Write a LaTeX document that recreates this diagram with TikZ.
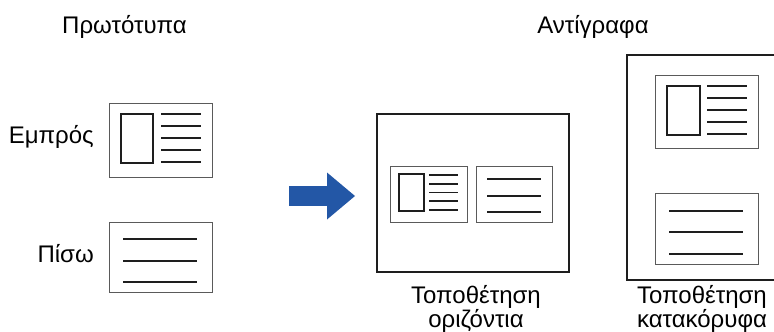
\documentclass[tikz,border=0pt]{standalone}
\usepackage{fontspec}
\setmainfont{Liberation Sans}
\usetikzlibrary{arrows.meta, positioning}
\definecolor{CB}{RGB}{35,87,166}
\definecolor{DG}{RGB}{30,30,30}
\definecolor{MG}{RGB}{90,90,90}

\begin{document}
\begin{tikzpicture}[x=1pt, y=-1pt,
  page/.style={draw=DG, line width=2pt, fill=white, minimum width=#1, inner sep=0pt},
  card/.style={draw=MG, line width=1pt, fill=white, minimum width=#1, inner sep=0pt},
  txtline/.style={draw=DG, line width=1.8pt},
  photo/.style={draw=DG, line width=1.8pt},
  lbl/.style={font=\fontsize{24}{20}\selectfont, text=black, inner sep=0pt}
]
\clip (0,0) rectangle (774,332);

% Titles
\node[lbl, anchor=base] (tOrig) at (124.5,34) {Πρωτότυπα};
\node[lbl, anchor=base] (tCopy) at (593,34)   {Αντίγραφα};

% Originals
\node[card=103pt, minimum height=74pt] (frontO) at (160.5,140) {};
\node[card=103pt, minimum height=70pt] (backO)  at (160.5,257) {};
\node[lbl, anchor=base east] (lFront) at (94,143) {Εμπρός};
\node[lbl, anchor=base east] (lBack)  at (94,262) {Πίσω};
\draw[photo] (121,114) rectangle (153,163);
\foreach \y in {114,126,138,150,162}
  \draw[txtline] (161,\y) -- (201,\y);
\foreach \y in {239,261,282}
  \draw[txtline] (123,\y) -- (197,\y);

% Arrow
\coordinate (arrS) at (289,196);
\coordinate (arrE) at (355,196);
\draw[CB, line width=20pt, -{Triangle[length=28pt, width=47pt, line width=0pt]}] (arrS) -- (arrE);

% Copy, side by side
\node[page=192pt, minimum height=158pt] (pageH) at (473,193) {};
\node[card=77pt, minimum height=56pt] (frontH) at (428.5,194) {};
\node[card=76pt, minimum height=56pt] (backH)  at (514,194) {};
\draw[photo] (399,174) rectangle (424,211);
\foreach \y in {175,183.75,192.5,201.25,210}
  \draw[txtline] (429,\y) -- (458,\y);
\foreach \y in {179,196,212}
  \draw[txtline] (487,\y) -- (541,\y);
\node[lbl, align=center, anchor=north] (lblH) at (476,285.5) {Τοποθέτηση\\οριζόντια};

% Copy, one above the other
\node[page=159pt, minimum height=225pt] (pageV) at (706.5,167.5) {};
\node[card=103pt, minimum height=73pt] (frontV) at (706.5,111.5) {};
\node[card=103pt, minimum height=71pt] (backV)  at (706.5,228.5) {};
\draw[photo] (667,86) rectangle (700,135);
\foreach \y in {86,98,110,122,134}
  \draw[txtline] (707,\y) -- (747,\y);
\foreach \y in {211,232,254}
  \draw[txtline] (669,\y) -- (743,\y);
\node[lbl, align=center, anchor=north] (lblV) at (702,285.5) {Τοποθέτηση\\κατακόρυφα};
\end{tikzpicture}
\end{document}
